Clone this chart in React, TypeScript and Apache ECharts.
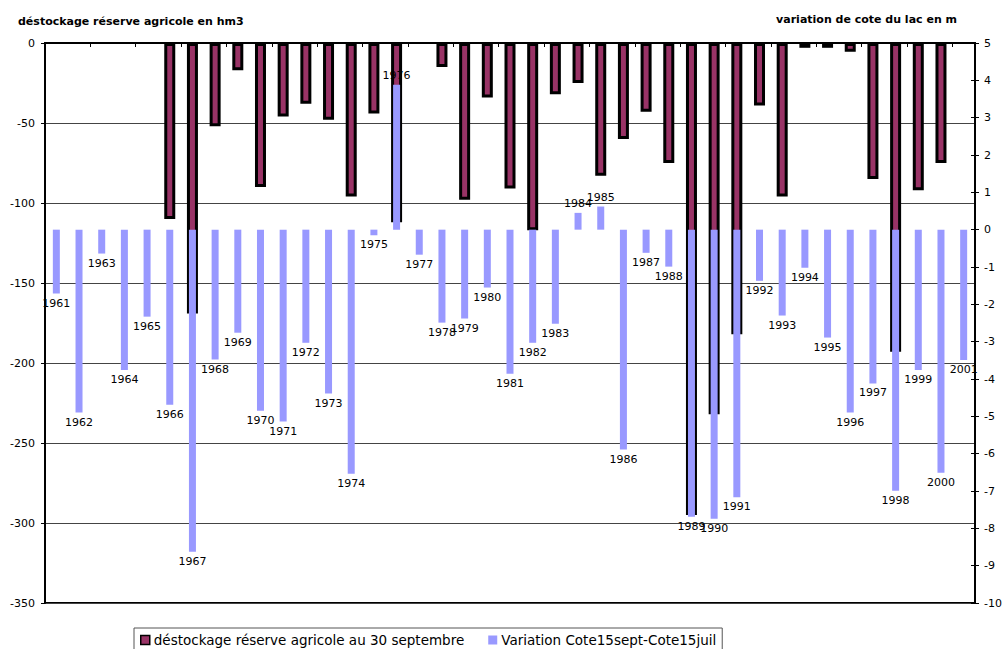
import React, { useEffect, useRef } from "react";
import * as echarts from "echarts";

const years = [
  "1961", "1962", "1963", "1964", "1965", "1966", "1967", "1968", "1969", "1970",
  "1971", "1972", "1973", "1974", "1975", "1976", "1977", "1978", "1979", "1980",
  "1981", "1982", "1983", "1984", "1985", "1986", "1987", "1988", "1989", "1990",
  "1991", "1992", "1993", "1994", "1995", "1996", "1997", "1998", "1999", "2000",
  "2001",
];

// destockage réserve agricole au 30 septembre (hm3)
const destockage: (number | null)[] = [
  null, null, null, null, null, -110, -169, -52, -17, -90,
  -46, -38, -48, -96, -44, -112, null, -15, -98, -34,
  -91, -117, -32, -25, -83, -60, -43, -75, -295, -232,
  -182, -39, -96, -3, -3, -5.5, -85, -193, -92, -75,
  null,
];

// Variation Cote15sept-Cote15juil (m)
const variation: number[] = [
  -1.71, -4.9, -0.64, -3.76, -2.33, -4.69, -8.63, -3.48, -2.76, -4.85,
  -5.14, -3.03, -4.39, -6.54, -0.15, 3.88, -0.67, -2.49, -2.38, -1.55,
  -3.86, -3.03, -2.52, 0.45, 0.62, -5.89, -0.62, -0.99, -7.69, -7.74,
  -7.17, -1.37, -2.3, -1.02, -2.89, -4.9, -4.12, -6.99, -3.76, -6.51,
  -3.49,
];

const leftTicks = { min: -350, max: 0, interval: 50 };
const rightTicks = { min: -10, max: 5, interval: 1 };

const S1 = "déstockage réserve agricole au 30 septembre";
const S2 = "Variation Cote15sept-Cote15juil";
const TITLE_L = "déstockage réserve agricole en hm3";
const TITLE_R = "variation de cote du lac en m";

const FONT = "DejaVu Sans";

export default function App() {
  const ref = useRef<HTMLDivElement>(null);
  useEffect(() => {
    const chart = echarts.init(ref.current!, null, { renderer: "svg" });
    const option: any = {
      animation: false,
      backgroundColor: "#fff",
      textStyle: { fontFamily: FONT },
      title: [
        {
          text: TITLE_L,
          left: 13,
          top: 11,
          textStyle: { fontFamily: FONT, fontSize: 11, fontWeight: "bold", color: "#000" },
        },
        {
          text: TITLE_R,
          right: 45,
          top: 9,
          textStyle: { fontFamily: FONT, fontSize: 11, fontWeight: "bold", color: "#000" },
        },
      ],
      legend: {
        left: 134,
        top: 628,
        orient: "horizontal",
        itemWidth: 9,
        itemHeight: 9,
        itemGap: 24,
        padding: [5, 6, 10, 6],
        borderColor: "#555",
        borderWidth: 1,
        textStyle: { fontFamily: FONT, fontSize: 13.5, color: "#000", padding: [0, 0, 0, -1] },
        data: [
          { name: S1, icon: "rect", itemStyle: { borderWidth: 1.5, borderColor: "#000" } },
          { name: S2, icon: "rect" },
        ],
      },
      grid: {
        left: 45,
        right: 32,
        top: 43,
        bottom: 46,
        show: true,
        borderColor: "#000",
        borderWidth: 2,
        containLabel: false,
      },
      xAxis: [
        {
          type: "category",
          data: years,
          position: "top",
          axisLine: { show: true, onZero: false, lineStyle: { color: "#000", width: 2 } },
          axisTick: { show: true, inside: true, length: 4, lineStyle: { color: "#000" } },
          axisLabel: { show: false },
          splitLine: { show: false },
        },
        {
          type: "category",
          data: years,
          position: "top",
          show: false,
        },
      ],
      yAxis: [
        {
          type: "value",
          position: "left",
          min: leftTicks.min,
          max: leftTicks.max,
          interval: leftTicks.interval,
          axisLine: { show: true, lineStyle: { color: "#000", width: 2 } },
          axisTick: { show: true, length: 4, lineStyle: { color: "#000" } },
          axisLabel: { fontFamily: FONT, fontSize: 11, color: "#000", margin: 10 },
          splitLine: { show: true, lineStyle: { color: "#444", width: 1 } },
        },
        {
          type: "value",
          position: "right",
          min: rightTicks.min,
          max: rightTicks.max,
          interval: rightTicks.interval,
          axisLine: { show: true, lineStyle: { color: "#000", width: 2 } },
          axisTick: { show: true, length: 4, lineStyle: { color: "#000" } },
          axisLabel: { fontFamily: FONT, fontSize: 11, color: "#000", margin: 9 },
          splitLine: { show: false },
        },
        {
          type: "value",
          position: "right",
          min: rightTicks.min,
          max: rightTicks.max,
          interval: rightTicks.interval,
          axisLine: { show: false },
          axisTick: { show: true, inside: true, length: 4, lineStyle: { color: "#000" } },
          axisLabel: { show: false },
          splitLine: { show: false },
        },
      ],
      series: [
        {
          name: S1,
          type: "bar",
          xAxisIndex: 0,
          yAxisIndex: 0,
          barWidth: 11,
          data: destockage,
          itemStyle: { color: "#993366", borderColor: "#000", borderWidth: 3 },
          z: 2,
        },
        {
          name: S2,
          type: "bar",
          xAxisIndex: 1,
          yAxisIndex: 1,
          barWidth: 7,
          data: variation.map((v) => ({
            value: v,
            label: { position: v >= 0 ? "top" : "bottom" },
          })),
          itemStyle: { color: "#9999FF" },
          label: {
            show: true,
            formatter: "{b}",
            distance: 4,
            fontFamily: FONT,
            fontSize: 11,
            color: "#000",
          },
          z: 3,
        },
      ],
    };
    chart.setOption(option);
    return () => chart.dispose();
  }, []);
  return (
    <div
      ref={ref}
      style={{ position: "fixed", left: 0, top: 0, width: 1007, height: 649 }}
    />
  );
}
